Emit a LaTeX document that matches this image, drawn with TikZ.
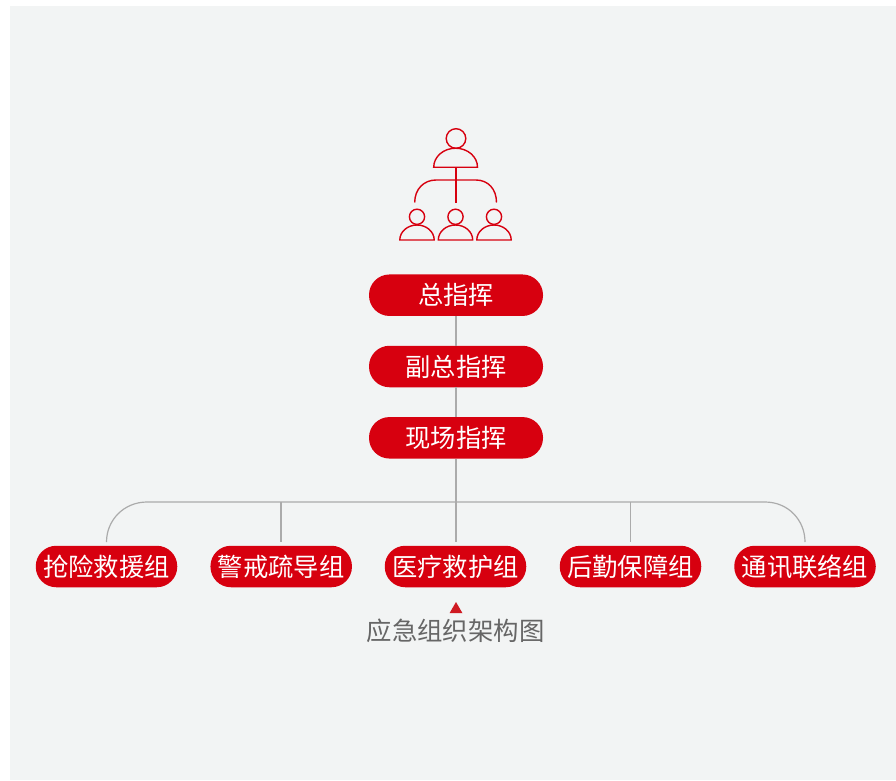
\documentclass[tikz,border=0pt]{standalone}
\usepackage{fontspec}
\setmainfont{Noto Sans CJK SC}
\definecolor{bg}{HTML}{F2F4F4}
\definecolor{brand}{HTML}{D7000F}
\definecolor{wire}{HTML}{ABABAB}
\definecolor{cap}{HTML}{666666}
\definecolor{tri}{HTML}{CF1A22}
\tikzset{
  pill/.style={fill=brand,text=white,rounded corners=20.5pt,minimum height=41.5pt,inner sep=0pt,font=\fontsize{25.3}{25.3}\selectfont},
  toppill/.style={pill,minimum width=174pt},
  grouppill/.style={pill,minimum width=141.5pt},
  wireline/.style={draw=wire,line width=1.2pt},
  iconline/.style={draw=brand,line width=1.4pt},
  captext/.style={text=cap,inner sep=0pt,font=\fontsize{25.4}{25.4}\selectfont}
}
\begin{document}
\begin{tikzpicture}[x=1pt,y=-1pt]
\useasboundingbox (0,0) rectangle (896,780);
\fill[white] (0,0) rectangle (896,780);
\fill[bg] (10,6) rectangle (896,780);
\coordinate (d1) at (106.5,542);
\coordinate (d2) at (281,542);
\coordinate (d3) at (456,542);
\coordinate (d4) at (630.5,542);
\coordinate (d5) at (805,542);
\coordinate (b2) at (281,502);
\coordinate (b3) at (456,502);
\coordinate (b4) at (630.5,502);
\node[toppill] (chief) at (456,295.2) {总指挥};
\node[toppill] (deputy) at (456,366.5) {副总指挥};
\node[toppill] (site) at (456,437.8) {现场指挥};
\node[grouppill] (g1) at (106.5,566.5) {抢险救援组};
\node[grouppill] (g2) at (281.2,566.5) {警戒疏导组};
\node[grouppill] (g3) at (455.5,566.5) {医疗救护组};
\node[grouppill] (g4) at (630.5,566.5) {后勤保障组};
\node[grouppill] (g5) at (805,566.5) {通讯联络组};
\draw[wireline] (chief.south) -- (deputy.north);
\draw[wireline] (deputy.south) -- (site.north);
\draw[wireline] (site.south) -- (d3);
\draw[wireline] (d1) .. controls (106.5,520) and (124,502) .. (147,502) -- (765,502) .. controls (788,502) and (805,520) .. (d5);
\draw[wireline] (b2) -- (d2);
\draw[wireline] (b4) -- (d4);
% icon
\draw[iconline] (456,138.5) circle[radius=9.8];
\draw[iconline] (433.7,167.2) arc[start angle=180,end angle=360,x radius=21.9,y radius=19] -- cycle;
\draw[iconline] (456,167.2) -- (456,202.5);
\draw[iconline] (414.7,202.5) .. controls (414.7,189) and (424,180) .. (436,180) -- (476,180) .. controls (488,180) and (496.5,189) .. (496.5,202.5);
\foreach \cx in {417,455.5,494}{
  \draw[iconline] (\cx,216.8) circle[radius=7.6];
  \draw[iconline] (\cx-17.2,240) arc[start angle=180,end angle=360,x radius=17.2,y radius=15] -- cycle;
}
% caption
\fill[tri] (449.5,613.2) -- (462.5,613.2) -- (456,602) -- cycle;
\node[captext] (title) at (455.5,631) {应急组织架构图};
\end{tikzpicture}
\end{document}
